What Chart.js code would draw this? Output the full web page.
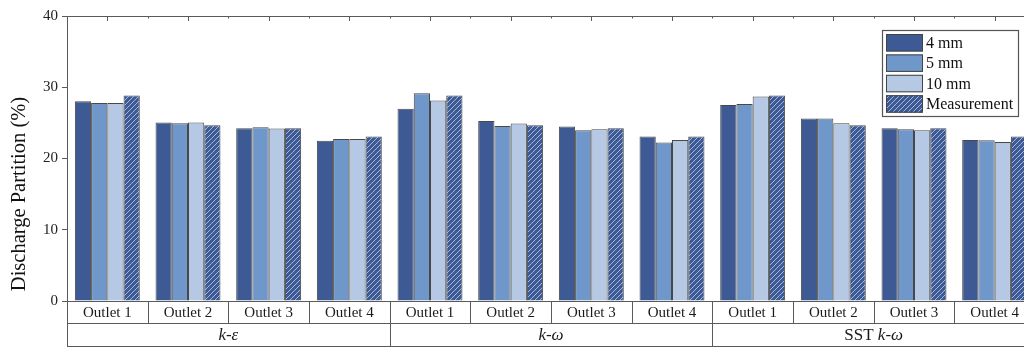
<!DOCTYPE html>
<html>
<head>
<meta charset="utf-8">
<script src="https://cdn.jsdelivr.net/npm/chart.js@4/dist/chart.umd.min.js"></script>
<style>
  html, body { margin: 0; padding: 0; background: #fff; overflow: hidden; width: 1024px; height: 347px; }
  canvas { display: block; }
</style>
</head>
<body>
<canvas id="c" width="1040" height="347"></canvas>
<script>
// ---- data ----
const outlets = ['Outlet 1', 'Outlet 2', 'Outlet 3', 'Outlet 4',
                 'Outlet 1', 'Outlet 2', 'Outlet 3', 'Outlet 4',
                 'Outlet 1', 'Outlet 2', 'Outlet 3', 'Outlet 4'];
const groupPrefixes = ['', '', 'SST '];
const groupModels = ['k-ε', 'k-ω', 'k-ω'];
const seriesNames = ['4 mm', '5 mm', '10 mm', 'Measurement'];
const mm4 = [28.05, 25.05, 24.25, 22.5, 27.0, 25.25, 24.5, 23.1, 27.5, 25.6, 24.25, 22.6];
const mm5 = [27.8, 24.95, 24.4, 22.75, 29.15, 24.55, 23.95, 22.25, 27.65, 25.6, 24.1, 22.55];
const mm10 = [27.8, 25.05, 24.2, 22.75, 28.15, 24.9, 24.1, 22.6, 28.7, 24.95, 23.95, 22.3];
const measurement = [28.85, 24.65, 24.25, 23.1, 28.85, 24.65, 24.25, 23.1, 28.85, 24.65, 24.25, 23.1];
const yTicks = [0, 10, 20, 30, 40];
const yTitle = 'Discharge Partition (%)';

// ---- styles ----
const SERIF = "'Liberation Serif', 'Times New Roman', 'DejaVu Serif', serif";
const C4 = '#3d5a95';
const C5 = '#6f97c9';
const C10 = '#b5c9e4';
const LINE = '#5a5a5a';

function hatch() {
  const s = 5;
  const p = document.createElement('canvas');
  p.width = s; p.height = s;
  const g = p.getContext('2d');
  g.fillStyle = C4;
  g.fillRect(0, 0, s, s);
  g.strokeStyle = 'rgba(190,208,238,0.8)';
  g.lineWidth = 1;
  g.beginPath();
  g.moveTo(-1, s + 1); g.lineTo(s + 1, -1);
  g.moveTo(-1, 1); g.lineTo(1, -1);
  g.moveTo(s - 1, s + 1); g.lineTo(s + 1, s - 1);
  g.stroke();
  return g.createPattern(p, 'repeat');
}
const HATCH = hatch();
const fills = [C4, C5, C10, HATCH];
const seriesData = [mm4, mm5, mm10, measurement];

const extras = {
  id: 'extras',
  afterDraw(chart) {
    const ctx = chart.ctx;
    const a = chart.chartArea;
    const xs = chart.scales.x;
    const n = outlets.length;
    const w = (a.right - a.left) / n;
    const yRow = a.bottom + 22;
    const yEnd = a.bottom + 45;
    ctx.save();
    ctx.strokeStyle = LINE;
    ctx.lineWidth = 1;
    // top axis line with ticks
    ctx.beginPath();
    ctx.moveTo(a.left, a.top + 0.5); ctx.lineTo(a.right + 20, a.top + 0.5);
    for (let i = 0; i < n; i++) {
      const cx = Math.round(xs.getPixelForValue(i)) + 0.5;
      ctx.moveTo(cx, a.top); ctx.lineTo(cx, a.top + 5);
      const bx = Math.round(a.left + (i + 1) * w) + 0.5;
      ctx.moveTo(bx, a.top); ctx.lineTo(bx, a.top + 2.5);
    }
    // bottom axis and table
    ctx.moveTo(a.left, Math.round(a.bottom) + 0.5); ctx.lineTo(a.right + 20, Math.round(a.bottom) + 0.5);
    ctx.moveTo(a.left, yRow + 0.5); ctx.lineTo(a.right + 20, yRow + 0.5);
    ctx.moveTo(a.left, yEnd + 0.5); ctx.lineTo(a.right + 20, yEnd + 0.5);
    ctx.moveTo(Math.round(a.left) + 0.5, a.bottom); ctx.lineTo(Math.round(a.left) + 0.5, 347);
    for (let i = 1; i <= n; i++) {
      const bx = Math.round(a.left + i * w) + 0.5;
      ctx.moveTo(bx, a.bottom); ctx.lineTo(bx, (i % 4 === 0) ? yEnd : yRow);
    }
    ctx.stroke();

    // outlet labels
    ctx.fillStyle = '#1a1a1a';
    ctx.textAlign = 'center';
    ctx.textBaseline = 'middle';
    ctx.font = '15px ' + SERIF;
    for (let i = 0; i < n; i++) {
      ctx.fillText(outlets[i], xs.getPixelForValue(i), (a.bottom + yRow) / 2 + 1);
    }
    // group labels
    for (let gi = 0; gi < groupModels.length; gi++) {
      const cx = a.left + (gi * 4 + 2) * w;
      const cy = (yRow + yEnd) / 2 + 1;
      ctx.font = '17px ' + SERIF;
      const pw = ctx.measureText(groupPrefixes[gi]).width;
      ctx.font = 'italic 17px ' + SERIF;
      const mw = ctx.measureText(groupModels[gi]).width;
      let x0 = cx - (pw + mw) / 2;
      ctx.textAlign = 'left';
      ctx.font = '17px ' + SERIF;
      ctx.fillText(groupPrefixes[gi], x0, cy);
      ctx.font = 'italic 17px ' + SERIF;
      ctx.fillText(groupModels[gi], x0 + pw, cy);
    }

    // y title
    ctx.save();
    ctx.translate(20, 194);
    ctx.rotate(-Math.PI / 2);
    ctx.textAlign = 'center';
    ctx.textBaseline = 'middle';
    ctx.font = '20.5px ' + SERIF;
    ctx.fillStyle = '#111';
    ctx.fillText(yTitle, 0, 0);
    ctx.restore();

    // legend
    const lx = 882.5, ly = 30.5, lw = 136, lh = 86;
    ctx.fillStyle = '#fff';
    ctx.fillRect(lx, ly, lw, lh);
    ctx.strokeStyle = '#555';
    ctx.lineWidth = 1.2;
    ctx.strokeRect(lx, ly, lw, lh);
    ctx.font = '16px ' + SERIF;
    ctx.textAlign = 'left';
    ctx.textBaseline = 'middle';
    chart.data.datasets.forEach((ds, k) => {
      const sy = 34 + k * 20.4;
      ctx.fillStyle = ds.backgroundColor;
      ctx.fillRect(886, sy, 37, 17.5);
      ctx.strokeStyle = '#444';
      ctx.lineWidth = 1;
      ctx.strokeRect(886.5, sy + 0.5, 36, 16.5);
      ctx.fillStyle = '#111';
      ctx.fillText(ds.label, 926, sy + 9.5);
    });
    ctx.restore();
  }
};

new Chart(document.getElementById('c'), {
  type: 'bar',
  data: {
    labels: outlets,
    datasets: seriesNames.map((name, k) => ({
      label: name,
      data: seriesData[k],
      backgroundColor: fills[k],
      borderColor: '#484848',
      borderWidth: 1,
      barPercentage: 1.0,
      categoryPercentage: 0.805
    }))
  },
  options: {
    responsive: false,
    animation: false,
    layout: { padding: { top: 16, bottom: 46, right: 5, left: 0 } },
    plugins: { legend: { display: false }, tooltip: { enabled: false } },
    scales: {
      x: { display: false },
      y: {
        min: 0, max: 40,
        afterBuildTicks(scale) { scale.ticks = yTicks.map(v => ({ value: v })); },
        afterFit(scale) { scale.width = 67; },
        ticks: { color: '#222', font: { family: SERIF, size: 15 }, padding: 4 },
        grid: { drawOnChartArea: false, drawTicks: true, tickLength: 5, color: LINE },
        border: { display: true, color: LINE, width: 1 }
      }
    }
  },
  plugins: [extras]
});
</script>
</body>
</html>
